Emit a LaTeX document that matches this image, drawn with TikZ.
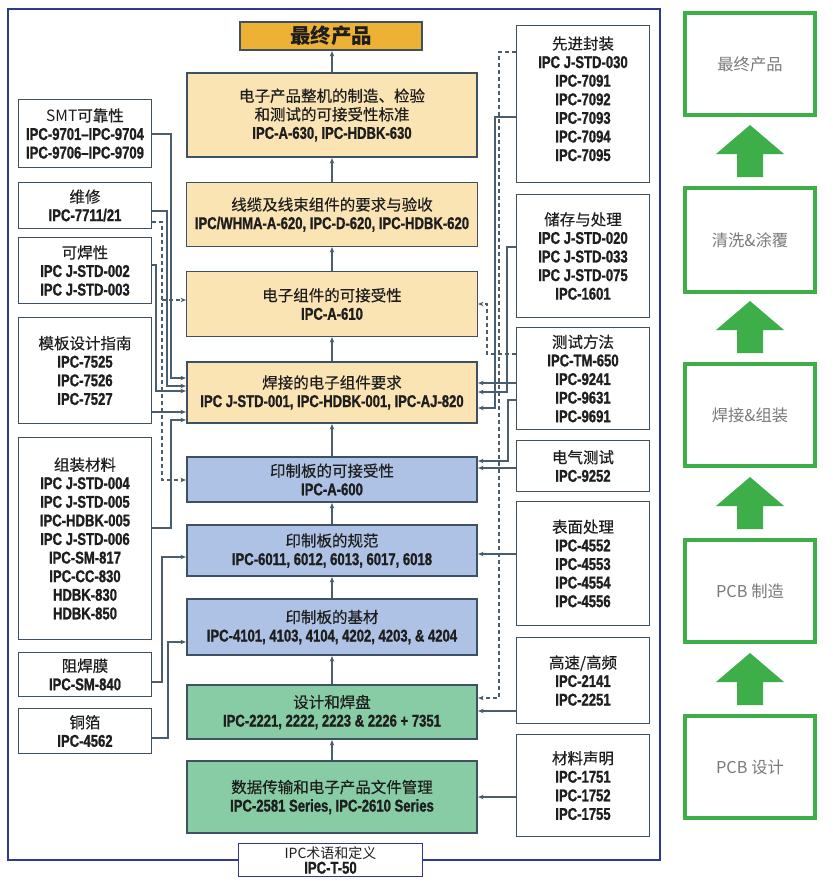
\documentclass[tikz,border=0pt]{standalone}
\usepackage{fontspec}
\setmainfont{Liberation Sans}
\newfontfamily\cjkf{Noto Sans CJK SC}
\newfontfamily\cjkm[FakeBold=0.35]{Noto Sans CJK SC}
\newfontfamily\latf[FakeStretch=0.77,BoldFeatures={FakeBold=1.1}]{Liberation Sans}
\usetikzlibrary{arrows.meta}
\definecolor{framec}{HTML}{2E3A8F}
\definecolor{boxc}{HTML}{3E5163}
\definecolor{linec}{HTML}{4A5E6E}
\definecolor{orangec}{HTML}{EDB136}
\definecolor{beigec}{HTML}{FBE4B3}
\definecolor{bluec}{HTML}{ADC2E4}
\definecolor{greenf}{HTML}{87CCA5}
\definecolor{greenc}{HTML}{3EAE49}
\definecolor{grayt}{HTML}{7A7A7A}
\definecolor{textc}{HTML}{1E1E1E}
\newcommand\zhT[1]{{\cjkm\fontsize{15.5}{18.6}\selectfont #1}}
\newcommand\enT[1]{{\latf\bfseries\fontsize{17}{18.6}\selectfont #1}}
\begin{document}
\begin{tikzpicture}[x=1pt,y=-1pt,
  base/.style={align=center, inner sep=0pt, font=\fontsize{16}{18.6}\selectfont, text=textc},
  cbox/.style={base, draw=boxc, line width=2.2pt, minimum width=290pt},
  cthin/.style={base, draw=boxc, line width=1.2pt, minimum width=291pt},
  lbox/.style={base, draw=boxc, line width=1.2pt, minimum width=133pt, fill=white},
  gbox/.style={align=center, inner sep=0pt, draw=greenc, line width=4pt, minimum width=130pt,
     text=grayt, font=\cjkf\fontsize{16.3}{20}\selectfont},
  arr/.style={draw=linec, line width=1.1pt, -{Stealth[length=5.5pt,width=4.5pt]}},
  darr/.style={arr, dash pattern=on 4pt off 3pt}
]
\useasboundingbox (0,0) rectangle (832,888);
\fill[white] (0,0) rectangle (832,888);
% outer frame
\draw[framec, line width=1.3pt] (8,9) rectangle (660,860);
\node[base, draw=framec, line width=1.3pt, fill=white, minimum width=184pt, minimum height=33pt,
  font=\fontsize{14}{15.5}\selectfont] (T) at (330.5,860)
  {{\cjkf IPC术语和定义}\\\enT{IPC-T-50}};

% central column
\node[base, draw=boxc, line width=2.2pt, fill=orangec, minimum width=182pt, minimum height=28pt] (top) at (331,36)
  {{\cjkf\bfseries\fontsize{20.5}{22}\selectfont 最终产品}};
\node[cbox, fill=beigec, minimum height=84pt] (b2) at (332,115)
  {\zhT{电子产品整机的制造、检验}\\\zhT{和测试的可接受性标准}\\\enT{IPC-A-630, IPC-HDBK-630}};
\node[cthin, fill=beigec, minimum height=64pt] (b3) at (332,214.5)
  {\zhT{线缆及线束组件的要求与验收}\\\enT{IPC/WHMA-A-620, IPC-D-620, IPC-HDBK-620}};
\node[cthin, fill=beigec, minimum height=65pt] (b4) at (332,304)
  {\zhT{电子组件的可接受性}\\\enT{IPC-A-610}};
\node[cbox, fill=beigec, minimum height=61pt] (b5) at (332,392.5)
  {\zhT{焊接的电子组件要求}\\\enT{IPC J-STD-001, IPC-HDBK-001, IPC-AJ-820}};
\node[cbox, fill=bluec, minimum height=45pt] (b6) at (332,479.5)
  {\zhT{印制板的可接受性}\\\enT{IPC-A-600}};
\node[cbox, fill=bluec, minimum height=51pt] (b7) at (332,550.5)
  {\zhT{印制板的规范}\\\enT{IPC-6011, 6012, 6013, 6017, 6018}};
\node[cbox, fill=bluec, minimum height=56pt] (b8) at (332,627)
  {\zhT{印制板的基材}\\\enT{IPC-4101, 4103, 4104, 4202, 4203, \& 4204}};
\node[cbox, fill=greenf, minimum height=54pt] (b9) at (332,712)
  {\zhT{设计和焊盘}\\\enT{IPC-2221, 2222, 2223 \& 2226 + 7351}};
\node[cbox, fill=greenf, minimum height=72pt] (b10) at (332,797)
  {\zhT{数据传输和电子产品文件管理}\\\enT{IPC-2581 Series, IPC-2610 Series}};

\draw[arr] (b2.north) -- (b2.north |- top.south);
\draw[arr] (b3.north) -- (b2.south);
\draw[arr] (b4.north) -- (b3.south);
\draw[arr] (b5.north) -- (b4.south);
\draw[arr] (b6.north) -- (b5.south);
\draw[arr] (b7.north) -- (b6.south);
\draw[arr] (b8.north) -- (b7.south);
\draw[arr] (b9.north) -- (b8.south);
\draw[arr] (b10.north) -- (b9.south);

% left boxes
\node[lbox, minimum height=68pt] (L1) at (85,133.5)
  {{\cjkf\fontsize{15.5}{18.6}\selectfont SMT\cjkm 可靠性}\\\enT{IPC-9701–IPC-9704}\\\enT{IPC-9706–IPC-9709}};
\node[lbox, minimum height=46pt] (L2) at (85,205.5)
  {\zhT{维修}\\\enT{IPC-7711/21}};
\node[lbox, minimum height=66pt] (L3) at (85,270.5)
  {\zhT{可焊性}\\\enT{IPC J-STD-002}\\\enT{IPC J-STD-003}};
\node[lbox, minimum height=106pt] (L4) at (85,370.5)
  {\zhT{模板设计指南}\\\enT{IPC-7525}\\\enT{IPC-7526}\\\enT{IPC-7527}};
\node[lbox, minimum height=202pt] (L5) at (85,538.5)
  {\zhT{组装材料}\\\enT{IPC J-STD-004}\\\enT{IPC J-STD-005}\\\enT{IPC-HDBK-005}\\\enT{IPC J-STD-006}\\\enT{IPC-SM-817}\\\enT{IPC-CC-830}\\\enT{HDBK-830}\\\enT{HDBK-850}};
\node[lbox, minimum height=44pt] (L6) at (85,674.5)
  {\zhT{阻焊膜}\\\enT{IPC-SM-840}};
\node[lbox, minimum height=45pt] (L7) at (85,731)
  {\zhT{铜箔}\\\enT{IPC-4562}};

% right boxes
\node[lbox, minimum height=157pt] (R1) at (583,104)
  {\zhT{先进封装}\\\enT{IPC J-STD-030}\\\enT{IPC-7091}\\\enT{IPC-7092}\\\enT{IPC-7093}\\\enT{IPC-7094}\\\enT{IPC-7095}\\[-8pt]\mbox{}};
\node[lbox, minimum height=123pt] (R2) at (583,256)
  {\zhT{储存与处理}\\\enT{IPC J-STD-020}\\\enT{IPC J-STD-033}\\\enT{IPC J-STD-075}\\\enT{IPC-1601}};
\node[lbox, minimum height=102pt] (R3) at (583,378.5)
  {\zhT{测试方法}\\\enT{IPC-TM-650}\\\enT{IPC-9241}\\\enT{IPC-9631}\\\enT{IPC-9691}};
\node[lbox, minimum height=51pt] (R4) at (583,466)
  {\zhT{电气测试}\\\enT{IPC-9252}};
\node[lbox, minimum height=124pt] (R5) at (583,563.5)
  {\zhT{表面处理}\\\enT{IPC-4552}\\\enT{IPC-4553}\\\enT{IPC-4554}\\\enT{IPC-4556}};
\node[lbox, minimum height=86pt] (R6) at (583,680.5)
  {\zhT{高速/高频}\\\enT{IPC-2141}\\\enT{IPC-2251}};
\node[lbox, minimum height=102pt] (R7) at (583,785.5)
  {\zhT{材料声明}\\\enT{IPC-1751}\\\enT{IPC-1752}\\\enT{IPC-1755}};

% left connectors
\draw[arr] (L1.east |- 0,134) -| (171,378) -- (b5.west |- 0,378);
\draw[arr] (L2.east |- 0,211) -| (167,386) -- (b5.west |- 0,386);
\draw[darr] (L2.east |- 0,222) -| (162,480) -- (b6.west |- 0,480);
\draw[darr] (162,300) -- (b4.west |- 0,300);
\draw[arr] (L3.east |- 0,265) -| (156,391) -- (b5.west |- 0,391);
\draw[arr] (L4.east |- 0,412) -- (b5.west |- 0,412);
\draw[arr] (L5.east |- 0,528) -| (171,420) -- (b5.west |- 0,420);
\draw[arr] (L6.east |- 0,682) -| (162,557) -- (b7.west |- 0,557);
\draw[arr] (L7.east |- 0,738) -| (168,642) -- (b8.west |- 0,642);

% right connectors
\draw[darr] (R1.west |- 0,52) -| (499,698) -- (b9.east |- 0,698);
\draw[arr] (R1.west |- 0,117) -| (495,408) -- (b5.east |- 0,408);
\draw[arr] (R2.west |- 0,247) -| (507,392) -- (b5.east |- 0,392);
\draw[darr] (R3.west |- 0,354) -| (487,304) -- (b4.east |- 0,304);
\draw[arr] (R3.west |- 0,383) -- (b5.east |- 0,383);
\draw[arr] (R3.west |- 0,400) -| (508,461) -- (b6.east |- 0,461);
\draw[arr] (R4.west |- 0,468) -- (b6.east |- 0,468);
\draw[arr] (R5.west |- 0,554) -- (b7.east |- 0,554);
\draw[arr] (R6.west |- 0,711) -- (b9.east |- 0,711);
\draw[arr] (R7.west |- 0,797) -- (b10.east |- 0,797);

% right process column
\node[gbox, minimum height=102pt] (G1) at (750,64) {最终产品};
\node[gbox, minimum height=104pt] (G2) at (750,240) {清洗\&涂覆};
\node[gbox, minimum height=102pt] (G3) at (750,415) {焊接\&组装};
\node[gbox, minimum height=102pt] (G4) at (750,591) {PCB 制造};
\node[gbox, minimum height=102pt] (G5) at (750,767) {PCB 设计};
\foreach \t in {125,301,477,653}{
  \fill[greenc] (750,\t) -- (784,\t+29) -- (763,\t+29) -- (763,\t+52) -- (737,\t+52) -- (737,\t+29) -- (716,\t+29) -- cycle;
}
\end{tikzpicture}
\end{document}
